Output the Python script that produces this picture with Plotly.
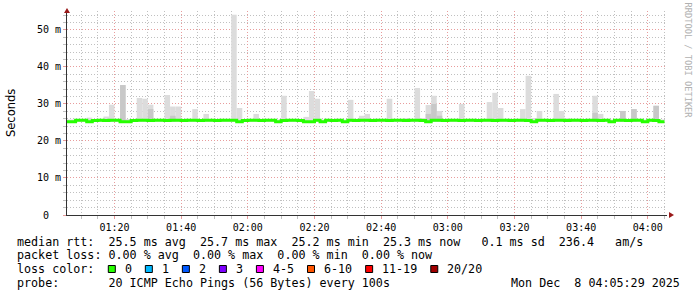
import plotly.graph_objects as go
import pandas as pd

# ---------------- data ----------------
bin_start = pd.date_range("2025-12-08 01:05:00", periods=108, freq="100s")
bin_seconds = 100

median_ms = [
    25.2, 25.2, 25.6, 25.6, 25.2, 25.5, 25.6, 25.5, 25.6, 25.6,
    25.2, 25.2, 25.5, 25.6, 25.6, 25.5, 25.6, 25.6, 25.5, 25.6,
    25.6, 25.5, 25.6, 25.6, 25.5, 25.6, 25.6, 25.5, 25.6, 25.6,
    25.6, 25.2, 25.5, 25.6, 25.6, 25.5, 25.6, 25.6, 25.2, 25.5,
    25.6, 25.6, 25.5, 25.2, 25.2, 25.6, 25.2, 25.6, 25.5, 25.6,
    25.2, 25.6, 25.5, 25.6, 25.6, 25.5, 25.6, 25.6, 25.5, 25.6,
    25.6, 25.5, 25.6, 25.6, 25.5, 25.2, 25.6, 25.6, 25.5, 25.6,
    25.6, 25.5, 25.6, 25.6, 25.5, 25.6, 25.6, 25.5, 25.6, 25.6,
    25.5, 25.6, 25.6, 25.5, 25.2, 25.6, 25.6, 25.5, 25.6, 25.6,
    25.5, 25.6, 25.6, 25.5, 25.6, 25.6, 25.5, 25.6, 25.2, 25.6,
    25.6, 25.5, 25.6, 25.6, 25.2, 25.6, 25.5, 25.2,
]

smoke_max_ms = [
    25.8, 25.8, 25.8, 25.8, 26.3, 25.8, 25.8, 26.6, 29.8, 25.8,
    35.1, 25.9, 25.8, 31.6, 31.4, 29.8, 25.8, 25.8, 32.4, 29.3,
    29.3, 25.8, 25.8, 28.6, 25.8, 27.3, 25.8, 25.8, 25.8, 25.8,
    54.1, 28.9, 25.8, 25.8, 27.3, 25.8, 25.8, 25.8, 25.8, 32.2,
    25.8, 25.8, 25.8, 26.5, 33.5, 31.4, 25.8, 25.8, 25.8, 25.8,
    25.8, 31.1, 25.8, 26.8, 27.3, 25.8, 25.8, 25.8, 31.4, 25.8,
    25.8, 26.2, 25.8, 34.3, 26.2, 29.7, 32.2, 28.1, 25.8, 25.8,
    25.8, 30.0, 25.8, 25.8, 25.8, 25.8, 30.5, 33.0, 28.9, 25.8,
    25.8, 25.8, 28.6, 37.6, 26.2, 28.1, 25.8, 25.8, 32.7, 28.1,
    26.2, 25.8, 25.8, 25.8, 25.8, 32.2, 27.3, 25.8, 25.8, 25.8,
    28.1, 25.8, 28.6, 25.8, 25.8, 25.8, 29.5, 25.8,
]

smoke_dark_ms = [
    25.2, 25.2, 25.2, 25.2, 25.2, 25.2, 25.2, 25.2, 25.2, 25.2,
    35.1, 25.2, 25.2, 25.2, 25.2, 28.6, 25.2, 25.2, 25.2, 26.8,
    25.2, 25.2, 25.2, 25.2, 25.2, 25.2, 25.2, 25.2, 25.2, 25.2,
    25.2, 25.2, 25.2, 25.2, 25.2, 25.2, 25.2, 25.2, 25.2, 25.2,
    25.2, 25.2, 25.2, 25.2, 25.2, 25.2, 25.2, 25.2, 25.2, 25.2,
    25.2, 25.2, 25.2, 25.2, 25.2, 25.2, 25.2, 25.2, 25.2, 25.2,
    25.2, 25.2, 25.2, 25.2, 25.2, 27.3, 30.0, 26.8, 25.2, 25.2,
    25.2, 25.2, 25.2, 25.2, 25.2, 25.2, 25.2, 25.2, 25.2, 25.2,
    25.2, 25.2, 25.2, 25.2, 25.2, 25.2, 25.2, 25.2, 25.2, 25.2,
    25.2, 25.2, 25.2, 25.2, 25.2, 27.6, 25.2, 25.2, 25.2, 25.2,
    28.1, 25.2, 28.6, 25.2, 25.2, 25.2, 29.5, 25.2,
]
smoke_floor_ms = 25.2

y_tick_values = [0, 10, 20, 30, 40, 50]
y_tick_labels = ["0  ", "10 m", "20 m", "30 m", "40 m", "50 m"]
x_tick_values = pd.date_range("2025-12-08 01:20", "2025-12-08 04:00", freq="20min")
x_tick_labels = ["01:20", "01:40", "02:00", "02:20", "02:40", "03:00", "03:20", "03:40", "04:00"]
x_range = ["2025-12-08 01:05:45", "2025-12-08 04:05:45"]

legend_lines = [
    "median rtt:  25.5 ms avg  25.7 ms max  25.2 ms min  25.3 ms now   0.1 ms sd  236.4   am/s",
    "packet loss: 0.00 % avg  0.00 % max  0.00 % min  0.00 % now",
    "loss color:",
    "probe:       20 ICMP Echo Pings (56 Bytes) every 100s",
]
timestamp_text = "Mon Dec  8 04:05:29 2025"
loss_labels = ["0", "1", "2", "3", "4-5", "6-10", "11-19", "20/20"]
loss_colors = ["#26ff00", "#00b8ff", "#0059ff", "#7e00ff", "#ff00ff", "#ff5500", "#ff0000", "#a00000"]

# ---------------- geometry ----------------
W, H = 697, 297
PL, PR, PT, PB = 67, 30, 11, 82
PW, PH = W - PL - PR, H - PT - PB
MONO = "DejaVu Sans Mono"


def fx(x):
    return (x - PL) / PW


def fy(y):
    return (PT + PH - y) / PH


def nb(s):
    return s.replace(" ", "\u00a0")


bin_width_ms = bin_seconds * 1000
light_h = [m - smoke_floor_ms for m in smoke_max_ms]
dark_h = [d - smoke_floor_ms for d in smoke_dark_ms]

fig = go.Figure()
fig.add_trace(go.Bar(x=bin_start, y=light_h, base=smoke_floor_ms, width=bin_width_ms, offset=0,
                     marker=dict(color="#dcdcdc", line=dict(width=0)), hoverinfo="skip"))
fig.add_trace(go.Bar(x=bin_start, y=dark_h, base=smoke_floor_ms, width=bin_width_ms, offset=0,
                     marker=dict(color="#c8c8c8", line=dict(width=0)), hoverinfo="skip"))

line_x = list(bin_start) + [bin_start[-1] + pd.Timedelta(seconds=bin_seconds)]
line_y = list(median_ms) + [median_ms[-1]]
fig.add_trace(go.Scatter(x=line_x, y=line_y, mode="lines", line=dict(color=loss_colors[0], width=3, shape="hv"),
                         hoverinfo="skip"))

grid_minor = "#c0c0c0"
grid_major = "#e89c9c"

fig.update_layout(
    width=W, height=H, margin=dict(l=PL, r=PR, t=PT, b=PB, pad=0),
    paper_bgcolor="white", plot_bgcolor="white", showlegend=False, barmode="overlay",
    font=dict(family=MONO, size=10, color="#000"),
    xaxis=dict(type="date", range=x_range, tickvals=x_tick_values, ticktext=x_tick_labels,
               showgrid=True, gridcolor=grid_major, griddash="1px,2px", gridwidth=1,
               showline=True, linecolor="#333", linewidth=1, zeroline=False,
               ticks="outside", ticklen=3, tickcolor=grid_major,
               tickfont=dict(family=MONO, size=10, color="#000"),
               minor=dict(dtick=300000, tick0="2025-12-08 00:00:00", showgrid=True, gridcolor=grid_minor,
                          griddash="1px,2px", ticks="outside", ticklen=3, tickcolor=grid_minor)),
    yaxis=dict(range=[0, 55.1], tickvals=y_tick_values, ticktext=[nb(t) for t in y_tick_labels],
               showgrid=True, gridcolor=grid_major, griddash="1px,2px", gridwidth=1,
               showline=True, linecolor="#333", linewidth=1, zeroline=False,
               ticks="outside", ticklen=3, tickcolor=grid_major,
               tickfont=dict(family=MONO, size=10, color="#000"),
               minor=dict(dtick=2, tick0=0, showgrid=True, gridcolor=grid_minor, griddash="1px,2px",
                          ticks="outside", ticklen=3, tickcolor=grid_minor)),
)

ann = []
line_y_px = [241.7, 255.2, 268.9, 282.7]
for text, ypx in zip(legend_lines, line_y_px):
    ann.append(dict(text=nb(text), x=fx(16), y=fy(ypx), xref="paper", yref="paper", xanchor="left",
                    yanchor="middle", showarrow=False, borderpad=0, font=dict(family=MONO, size=11.7, color="#000")))
ann.append(dict(text=nb(timestamp_text), x=fx(681), y=fy(line_y_px[3]), xref="paper", yref="paper",
                xanchor="right", yanchor="middle", showarrow=False, borderpad=0,
                font=dict(family=MONO, size=11.7, color="#000")))

# loss colour legend
shapes = []
cursor = 108.3
char_w = 7.03
for lab, col in zip(loss_labels, loss_colors):
    shapes.append(dict(type="rect", xref="paper", yref="paper", x0=fx(cursor), x1=fx(cursor + 7),
                       y0=fy(272.5), y1=fy(265.5), fillcolor=col, line=dict(color="#000", width=1)))
    lx = cursor + 15.5
    ann.append(dict(text=nb(lab), x=fx(lx), y=fy(line_y_px[2]), xref="paper", yref="paper", xanchor="left",
                    yanchor="middle", showarrow=False, borderpad=0, font=dict(family=MONO, size=11.7, color="#000")))
    cursor = lx + len(lab) * char_w + 14.5

# y axis title
ann.append(dict(text="Seconds", x=fx(11), y=fy(113), xref="paper", yref="paper", textangle=-90,
                showarrow=False, xanchor="center", yanchor="middle",
                font=dict(family="DejaVu Sans", size=11.5, color="#000")))
# watermark
ann.append(dict(text="RRDTOOL / TOBI OETIKER", x=fx(687.5), y=fy(60), xref="paper", yref="paper", textangle=90,
                showarrow=False, xanchor="center", yanchor="middle",
                font=dict(family=MONO, size=8.7, color="#b0b0b0")))

# axis arrows
arrow_col = "#9a1a1a"
shapes.append(dict(type="path", xref="paper", yref="paper", line=dict(width=0), fillcolor=arrow_col,
                   path=f"M {fx(64)},{fy(13)} L {fx(70)},{fy(13)} L {fx(67)},{fy(8)} Z"))
shapes.append(dict(type="path", xref="paper", yref="paper", line=dict(width=0), fillcolor=arrow_col,
                   path=f"M {fx(669)},{fy(212)} L {fx(669)},{fy(218)} L {fx(674)},{fy(215)} Z"))

fig.update_layout(annotations=ann, shapes=shapes)
fig.write_html("out.html")
